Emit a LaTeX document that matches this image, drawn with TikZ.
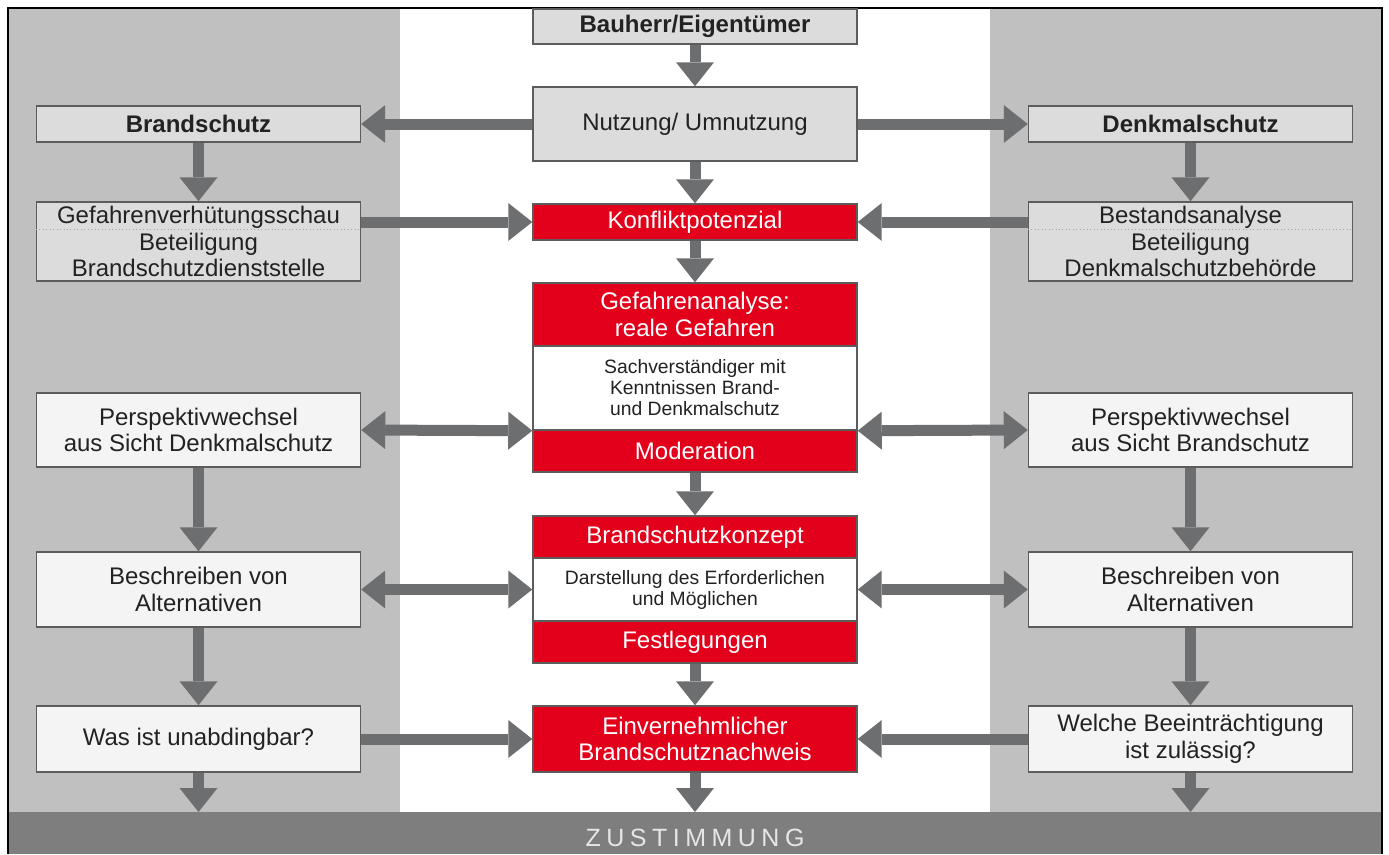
\documentclass[tikz,border=0pt]{standalone}
\usepackage{fontspec}
\setmainfont{Liberation Sans}
\newfontfamily\barfont[LetterSpace=22]{Liberation Sans}
\usepackage{tikz}
\usetikzlibrary{arrows.meta}

\definecolor{panelgray}{HTML}{C0C0C0}
\definecolor{bargray}{HTML}{7E7E7E}
\definecolor{bartext}{HTML}{E6E6E6}
\definecolor{arrowgray}{HTML}{6D6E70}
\definecolor{boxgray}{HTML}{DCDCDD}
\definecolor{boxlight}{HTML}{F4F4F4}
\definecolor{boxred}{HTML}{E2001A}
\definecolor{edgegray}{HTML}{5C5C5C}
\definecolor{textdark}{HTML}{222222}

\tikzset{
  box/.style={draw=edgegray, line width=1.1pt, minimum width=243pt, align=center,
    inner sep=2pt, text=textdark, font=\fontsize{18}{19.9}\selectfont},
  graybox/.style={box, fill=boxgray},
  lightbox/.style={box, fill=boxlight},
  redbox/.style={box, fill=boxred, text=white},
  whitebox/.style={box, fill=white, font=\fontsize{14.5}{15.75}\selectfont},
  flow/.style={draw=arrowgray, line width=8.25pt,
    -{Triangle[width=28.5pt,length=18pt,line width=0pt]}},
  flowboth/.style={flow,
    {Triangle[width=28.5pt,length=18pt,line width=0pt]}-{Triangle[width=28.5pt,length=18pt,line width=0pt]}},
}

\begin{document}
\begin{tikzpicture}[x=0.75pt,y=-0.75pt]
\useasboundingbox (0,0) rectangle (1389,854);
% background: two gray side panels, white middle, bottom bar
\fill[white] (0,0) rectangle (1389,854);
\fill[panelgray] (8,8) rectangle (400,812);
\fill[panelgray] (990,8) rectangle (1382,812);
\fill[bargray] (8,812) rectangle (1382,854);
\draw[line width=1.5pt] (8,854) -- (8,8) -- (1382,8) -- (1382,854);
\coordinate (bartop) at (695,812);
\node[font=\barfont\fontsize{18.75}{20}\selectfont, text=bartext] (consent) at (695,838) {ZUSTIMMUNG};

% middle column
\node[graybox, minimum height=26.25pt] (owner) at (695,26.5) {\textbf{Bauherr/Eigentümer}};
\node[graybox, minimum height=55.5pt] (use) at (695,124) {Nutzung/ Umnutzung};
\node[redbox, minimum height=27pt] (conflict) at (695,222) {Konfliktpotenzial};
\node[redbox, minimum height=47.25pt] (hazard) at (695,314.5) {Gefahrenanalyse:\\reale Gefahren};
\node[whitebox, minimum height=63pt] (expert) at (695,388) {Sachverständiger mit\\Kenntnissen Brand-\\und Denkmalschutz};
\node[redbox, minimum height=31.5pt] (moderation) at (695,451) {Moderation};
\node[redbox, minimum height=31.5pt] (concept) at (695,537) {Brandschutzkonzept};
\node[whitebox, minimum height=47.25pt] (scope) at (695,589.5) {Darstellung des Erforderlichen\\und Möglichen};
\node[redbox, minimum height=31.5pt] (fixing) at (695,642) {Festlegungen};
\node[redbox, minimum height=49.5pt] (proof) at (695,739) {Einvernehmlicher\\Brandschutznachweis};

% left column (fire protection)
\node[graybox, minimum height=27pt] (fire) at (198.5,124) {\textbf{Brandschutz}};
\node[graybox, minimum height=59.25pt] (inspect) at (198.5,241.5) {Gefahrenverhütungsschau\\Beteiligung\\Brandschutzdienststelle};
\node[lightbox, minimum height=55.5pt] (viewL) at (198.5,430) {Perspektivwechsel\\aus Sicht Denkmalschutz};
\node[lightbox, minimum height=56.25pt] (altL) at (198.5,589.5) {Beschreiben von\\Alternativen};
\node[lightbox, minimum height=49.5pt] (needL) at (198.5,739) {Was ist unabdingbar?};

% right column (monument protection)
\node[graybox, minimum height=27pt] (heritage) at (1190.5,124) {\textbf{Denkmalschutz}};
\node[graybox, minimum height=59.25pt] (survey) at (1190.5,241.5) {Bestandsanalyse\\Beteiligung\\Denkmalschutzbehörde};
\node[lightbox, minimum height=55.5pt] (viewR) at (1190.5,430) {Perspektivwechsel\\aus Sicht Brandschutz};
\node[lightbox, minimum height=56.25pt] (altR) at (1190.5,589.5) {Beschreiben von\\Alternativen};
\node[lightbox, minimum height=49.5pt] (needR) at (1190.5,739) {Welche Beeinträchtigung\\ist zulässig?};

% dotted separators
\foreach \n in {inspect,survey}
  \draw[edgegray!55, dotted, line width=0.6pt] ([yshift=-21pt]\n.north west) -- ([yshift=-21pt]\n.north east);

% arrows
\foreach \a/\b in {owner/use, use/conflict, conflict/hazard, moderation/concept, fixing/proof,
    fire/inspect, heritage/survey, viewL/altL, altL/needL, viewR/altR, altR/needR}
  \draw[flow] (\a.south) -- (\b.north);
\draw[flow] (use.west) -- (fire.east);
\draw[flow] (use.east) -- (heritage.west);
\draw[flow] (inspect.east |- conflict.west) -- (conflict.west);
\draw[flow] (survey.west |- conflict.east) -- (conflict.east);
\draw[flowboth] (viewL.east) -- (expert.south west);
\draw[flowboth] (viewR.west) -- (expert.south east);
\draw[flowboth] (altL.east) -- (scope.west);
\draw[flowboth] (altR.west) -- (scope.east);
\draw[flow] (needL.east) -- (proof.west);
\draw[flow] (needR.west) -- (proof.east);
\foreach \n in {needL,proof,needR}
  \draw[flow] (\n.south) -- (\n.south |- bartop);
\end{tikzpicture}
\end{document}
